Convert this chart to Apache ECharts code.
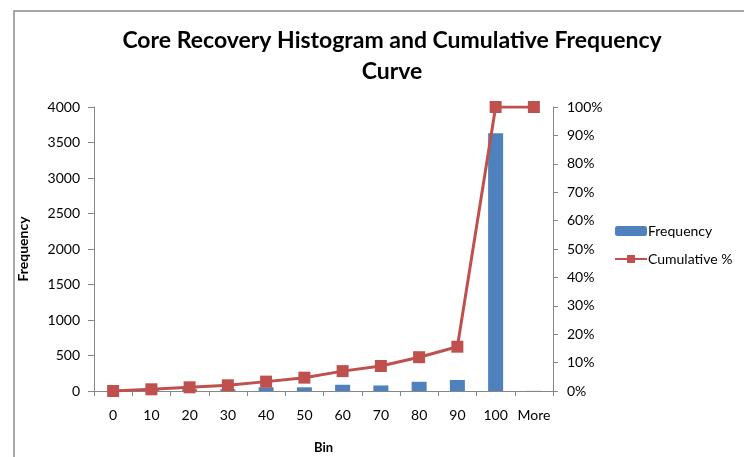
<!DOCTYPE html>
<html><head><meta charset="utf-8">
<script src="https://cdn.jsdelivr.net/npm/echarts@6/dist/echarts.min.js"></script>
<style>html,body{margin:0;padding:0;background:#fff}#c{width:744px;height:457px}</style>
</head><body><div id="c"></div>
<script>
const bins = ['0','10','20','30','40','50','60','70','80','90','100','More'];
const frequency = [0, 20, 25, 25, 52, 52, 88, 78, 130, 155, 3630, 2];
const cumulativePct = [0, 0.6, 1.3, 2.0, 3.3, 4.7, 7.0, 8.8, 11.9, 15.6, 100, 100];

const chart = echarts.init(document.getElementById('c'));
const axisGrey = '#868686';
const font = 'Lato';
chart.setOption({
  animation: false,
  textStyle: {fontFamily: font},
  title: {
    text: 'Core Recovery Histogram and Cumulative Frequency\nCurve',
    left: 387, top: 20, textAlign: 'center',
    textStyle: {fontFamily: font, fontWeight: 'bold', fontSize: 23, lineHeight: 31, color: '#000'}
  },
  graphic: [{
    type: 'rect', shape: {x: 14, y: 11, width: 760, height: 470},
    style: {fill: 'none', stroke: '#8c8c8c', lineWidth: 1.5}, silent: true
  }],
  legend: {
    orient: 'vertical', left: 609, top: 219, itemGap: 14,
    itemWidth: 32, itemHeight: 10,
    textStyle: {fontFamily: font, fontSize: 14, color: '#000', padding: [0, 0, 0, -4]},
    data: ['Frequency', 'Cumulative %']
  },
  grid: {left: 94, right: 191, top: 107, bottom: 66, containLabel: false, outerBoundsMode: 'none'},
  xAxis: {
    type: 'category', data: bins, boundaryGap: true,
    name: 'Bin', nameLocation: 'middle', nameGap: 50,
    nameTextStyle: {fontFamily: font, fontWeight: 'bold', fontSize: 13, color: '#000'},
    axisLine: {lineStyle: {color: axisGrey}},
    axisTick: {show: true, alignWithLabel: false, length: 5, lineStyle: {color: axisGrey}},
    axisLabel: {fontFamily: font, fontSize: 14, color: '#000', margin: 17, interval: 0}
  },
  yAxis: [{
    type: 'value', min: 0, max: 4000, interval: 500,
    name: 'Frequency', nameLocation: 'middle', nameGap: 64, nameRotate: 90,
    nameTextStyle: {fontFamily: font, fontWeight: 'bold', fontSize: 14, color: '#000'},
    axisLine: {show: true, lineStyle: {color: axisGrey}},
    axisTick: {show: true, length: 6, lineStyle: {color: axisGrey}},
    splitLine: {show: false},
    axisLabel: {fontFamily: font, fontSize: 14, color: '#000', margin: 14,
      formatter: v => String(v)}
  }, {
    type: 'value', min: 0, max: 100, interval: 10, position: 'right',
    axisLine: {show: true, lineStyle: {color: axisGrey}},
    axisTick: {show: true, length: 5, lineStyle: {color: axisGrey}},
    splitLine: {show: false},
    axisLabel: {fontFamily: font, fontSize: 14, color: '#000', margin: 14,
      formatter: v => v + '%'}
  }],
  series: [{
    name: 'Frequency', type: 'bar', data: frequency, barWidth: 15,
    itemStyle: {color: '#4F81BD'}, yAxisIndex: 0
  }, {
    name: 'Cumulative %', type: 'line', data: cumulativePct, yAxisIndex: 1,
    symbol: 'rect', symbolSize: 12,
    lineStyle: {color: '#C0504D', width: 3},
    itemStyle: {color: '#C0504D'}
  }]
});
</script></body></html>
